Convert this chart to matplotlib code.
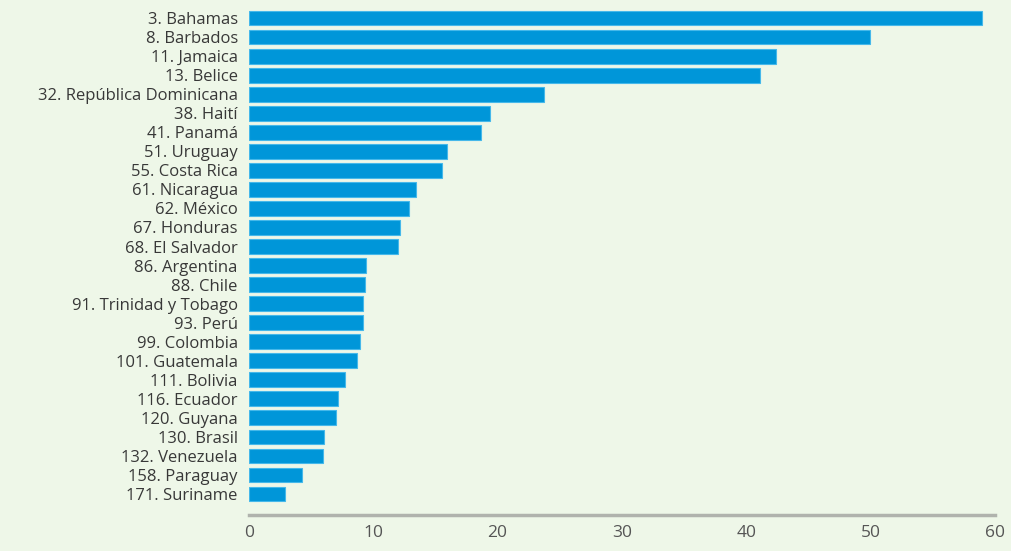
import numpy as np
import matplotlib.pyplot as plt

# Data
countries = [
    '3. Bahamas', '8. Barbados', '11. Jamaica', '13. Belice',
    '32. República Dominicana', '38. Haití', '41. Panamá', '51. Uruguay',
    '55. Costa Rica', '61. Nicaragua', '62. México', '67. Honduras',
    '68. El Salvador', '86. Argentina', '88. Chile', '91. Trinidad y Tobago',
    '93. Perú', '99. Colombia', '101. Guatemala', '111. Bolivia',
    '116. Ecuador', '120. Guyana', '130. Brasil', '132. Venezuela',
    '158. Paraguay', '171. Suriname',
]
values = [
    59.0, 50.0, 42.4, 41.1,
    23.7, 19.4, 18.7, 15.9,
    15.5, 13.4, 12.9, 12.15,
    12.0, 9.4, 9.3, 9.2,
    9.2, 8.9, 8.7, 7.7,
    7.2, 7.0, 6.05, 5.95,
    4.3, 2.9,
]
xticks = [0, 10, 20, 30, 40, 50, 60]

bg = '#eef7e8'
bar_color = '#0096d9'

plt.rcParams['font.family'] = ['Open Sans', 'DejaVu Sans']

fig = plt.figure(figsize=(10.12, 5.51), dpi=100, facecolor=bg)
ax = fig.add_axes([0.246, 0.0653, 0.737, 0.9202])
ax.set_facecolor(bg)

y = np.arange(len(countries))
ax.barh(y, values, height=0.78, color=bar_color, edgecolor='#45b8ea', linewidth=0.8)

ax.set_yticks(y)
ax.set_yticklabels(countries, fontsize=12, color='#383838')
ax.set_ylim(len(countries) - 1 + 1.1, -0.525)

ax.set_xlim(0, 60)
ax.set_xticks(xticks)
ax.set_xticklabels([str(t) for t in xticks], fontsize=12.5, color='#555555')

ax.tick_params(axis='both', length=0)
ax.tick_params(axis='y', pad=8)
ax.tick_params(axis='x', pad=7)

for side in ['top', 'right', 'left']:
    ax.spines[side].set_visible(False)
ax.spines['bottom'].set_color('#b0b3ad')
ax.spines['bottom'].set_linewidth(2.5)

fig.savefig('out.png', dpi=100, facecolor=bg)
